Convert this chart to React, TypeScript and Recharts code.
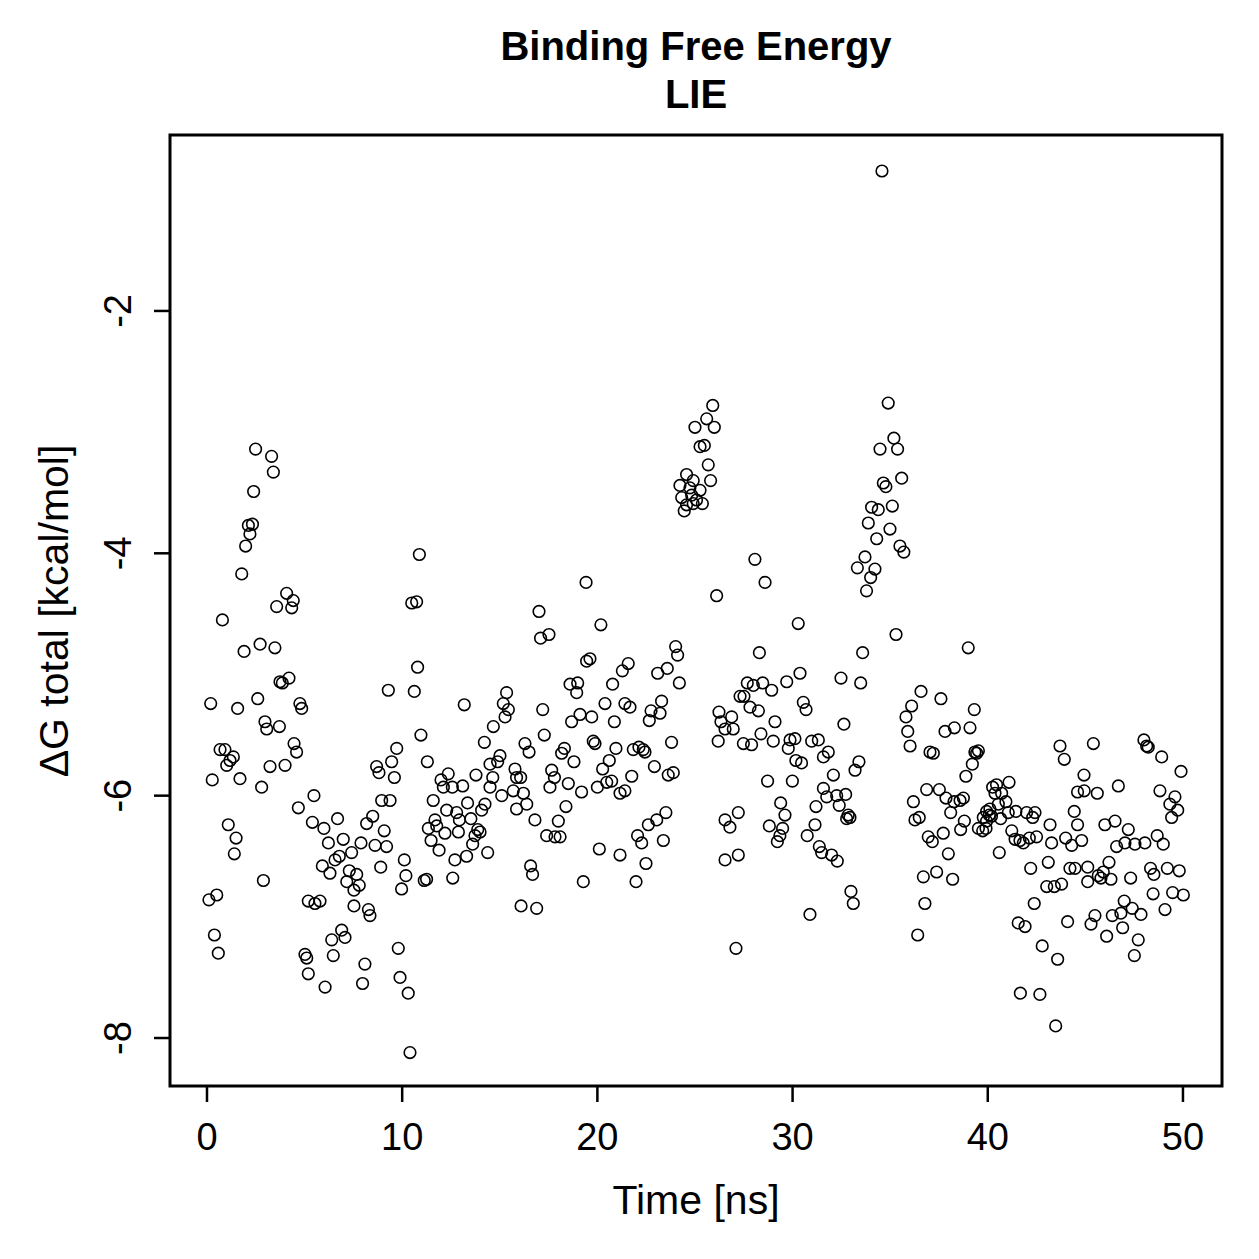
import React from 'react';
import { ScatterChart, Scatter, XAxis, YAxis, ReferenceArea, Label } from 'recharts';

// [time (ns), ΔG total (kcal/mol)], grouped by time window
const seg00to05: [number, number][] = [[2.49,-3.14],[3.31,-3.20],[3.40,-3.33],[2.39,-3.49],[2.12,-3.77],[2.33,-3.76],[2.20,-3.84],[1.98,-3.94],[1.78,-4.17],[4.08,-4.33],[4.42,-4.39],[4.34,-4.45],[3.57,-4.44],[0.79,-4.55],[1.90,-4.81],[2.72,-4.75],[3.48,-4.78],[4.20,-5.03],[3.86,-5.07],[3.74,-5.06],[0.19,-5.24],[1.57,-5.28],[2.60,-5.20],[4.76,-5.24],[4.85,-5.28],[2.97,-5.39],[3.06,-5.45],[3.71,-5.43],[0.67,-5.62],[0.92,-5.62],[1.35,-5.68],[1.18,-5.71],[1.01,-5.75],[4.46,-5.57],[4.59,-5.64],[0.27,-5.87],[1.69,-5.86],[2.80,-5.93],[3.23,-5.76],[4.00,-5.75],[4.68,-6.10],[1.09,-6.24],[1.49,-6.35],[1.40,-6.48],[2.89,-6.70],[0.10,-6.86],[0.50,-6.82],[0.38,-7.15],[0.58,-7.30]];
const seg05to10: [number, number][] = [[9.29,-5.13],[9.72,-5.61],[9.46,-5.72],[9.60,-5.85],[8.69,-5.76],[8.81,-5.81],[8.95,-6.04],[9.38,-6.04],[5.48,-6.00],[5.40,-6.22],[5.99,-6.27],[6.69,-6.19],[6.22,-6.39],[6.98,-6.36],[7.41,-6.47],[7.89,-6.39],[8.18,-6.23],[8.49,-6.17],[8.61,-6.41],[9.08,-6.29],[9.20,-6.42],[8.90,-6.59],[10.11,-6.53],[10.19,-6.66],[9.97,-6.77],[5.91,-6.58],[6.56,-6.53],[6.78,-6.50],[6.30,-6.64],[7.16,-6.71],[7.29,-6.62],[7.67,-6.65],[7.80,-6.74],[7.53,-6.78],[5.19,-6.87],[5.53,-6.89],[5.79,-6.87],[7.53,-6.91],[8.27,-6.94],[8.35,-6.99],[6.39,-7.19],[6.90,-7.11],[7.07,-7.17],[5.02,-7.31],[5.11,-7.34],[5.19,-7.47],[6.47,-7.32],[8.09,-7.39],[9.80,-7.26],[9.89,-7.50],[6.05,-7.58],[7.97,-7.55]];
const seg10to15: [number, number][] = [[10.88,-4.01],[10.49,-4.41],[10.74,-4.40],[10.79,-4.94],[10.62,-5.14],[13.18,-5.25],[10.96,-5.50],[11.29,-5.72],[15.35,-5.15],[15.18,-5.24],[15.44,-5.29],[15.27,-5.35],[14.67,-5.43],[14.21,-5.56],[15.01,-5.67],[14.89,-5.72],[14.50,-5.74],[14.64,-5.85],[14.50,-5.93],[15.10,-6.00],[13.78,-5.83],[11.99,-5.87],[12.11,-5.93],[12.36,-5.82],[12.57,-5.93],[13.10,-5.92],[11.59,-6.04],[13.35,-6.06],[12.28,-6.12],[12.79,-6.14],[12.93,-6.20],[14.24,-6.07],[14.07,-6.12],[13.52,-6.19],[11.68,-6.20],[11.77,-6.25],[11.34,-6.27],[12.19,-6.31],[12.88,-6.30],[13.87,-6.28],[13.99,-6.30],[13.73,-6.33],[11.48,-6.37],[13.61,-6.40],[11.89,-6.45],[14.38,-6.47],[13.30,-6.50],[12.70,-6.53],[11.13,-6.70],[11.25,-6.69],[12.59,-6.68],[10.31,-7.63],[10.40,-8.12]];
const seg15to21: [number, number][] = [[19.42,-4.24],[17.01,-4.48],[17.09,-4.70],[17.52,-4.67],[20.18,-4.59],[19.45,-4.89],[19.62,-4.87],[18.60,-5.08],[18.99,-5.07],[18.94,-5.15],[20.78,-5.08],[20.39,-5.24],[17.20,-5.29],[18.68,-5.39],[19.11,-5.33],[19.71,-5.35],[20.87,-5.39],[17.28,-5.50],[16.29,-5.57],[16.50,-5.64],[18.31,-5.61],[18.17,-5.65],[19.79,-5.55],[19.88,-5.57],[20.95,-5.61],[18.80,-5.72],[20.61,-5.71],[20.27,-5.78],[15.78,-5.78],[15.86,-5.85],[16.07,-5.85],[15.69,-5.96],[16.21,-5.98],[15.86,-6.11],[16.38,-6.07],[17.66,-5.79],[17.80,-5.85],[17.57,-5.93],[18.51,-5.90],[19.19,-5.97],[20.00,-5.93],[20.48,-5.89],[20.73,-5.88],[18.39,-6.09],[16.80,-6.20],[18.00,-6.21],[17.40,-6.33],[17.83,-6.34],[18.09,-6.34],[20.10,-6.44],[16.58,-6.58],[16.68,-6.65],[19.28,-6.71],[16.09,-6.91],[16.89,-6.93]];
const seg21to26: [number, number][] = [[25.91,-2.78],[25.00,-2.96],[25.60,-2.89],[25.99,-2.96],[25.26,-3.12],[25.48,-3.11],[25.68,-3.27],[25.80,-3.40],[24.57,-3.35],[24.91,-3.40],[24.23,-3.44],[24.74,-3.46],[25.26,-3.48],[24.83,-3.52],[24.32,-3.54],[24.57,-3.60],[25.08,-3.56],[25.38,-3.59],[24.45,-3.65],[24.91,-3.59],[26.11,-4.35],[24.01,-4.77],[24.11,-4.84],[23.58,-4.95],[23.09,-4.99],[24.20,-5.07],[21.58,-4.91],[21.28,-4.97],[21.41,-5.24],[21.67,-5.27],[23.29,-5.22],[23.21,-5.32],[22.75,-5.30],[22.66,-5.38],[23.80,-5.56],[26.23,-5.31],[26.33,-5.39],[26.19,-5.55],[21.84,-5.62],[22.13,-5.60],[22.35,-5.62],[22.44,-5.64],[22.92,-5.76],[23.63,-5.83],[23.89,-5.81],[21.76,-5.84],[21.16,-5.98],[21.41,-5.96],[23.51,-6.14],[23.04,-6.20],[22.61,-6.24],[22.06,-6.33],[22.27,-6.39],[23.38,-6.37],[21.16,-6.49],[22.49,-6.56],[21.98,-6.71]];
const seg26to32: [number, number][] = [[28.07,-4.05],[28.59,-4.24],[30.29,-4.58],[28.30,-4.82],[30.38,-4.99],[29.70,-5.06],[27.68,-5.07],[27.99,-5.09],[28.47,-5.07],[28.93,-5.13],[27.31,-5.18],[27.51,-5.18],[27.82,-5.27],[28.25,-5.30],[30.55,-5.23],[30.69,-5.29],[26.88,-5.35],[26.54,-5.45],[26.96,-5.45],[29.10,-5.39],[28.38,-5.49],[29.01,-5.55],[27.48,-5.57],[27.90,-5.58],[29.87,-5.54],[30.12,-5.53],[29.78,-5.61],[30.17,-5.71],[30.46,-5.73],[30.98,-5.55],[31.32,-5.54],[31.83,-5.64],[31.58,-5.68],[28.72,-5.88],[29.99,-5.88],[31.58,-5.94],[31.75,-6.01],[29.39,-6.06],[29.61,-6.16],[31.20,-6.09],[31.15,-6.24],[27.22,-6.14],[26.54,-6.20],[26.79,-6.26],[28.81,-6.25],[29.49,-6.27],[29.35,-6.33],[29.22,-6.38],[30.75,-6.33],[31.37,-6.42],[31.49,-6.47],[27.22,-6.49],[26.54,-6.53],[30.89,-6.98],[27.10,-7.26]];
const seg32to37: [number, number][] = [[34.58,-0.845],[34.90,-2.76],[35.19,-3.05],[34.48,-3.14],[35.38,-3.14],[35.59,-3.38],[34.65,-3.42],[34.78,-3.45],[34.05,-3.62],[34.39,-3.64],[35.11,-3.61],[33.88,-3.75],[34.99,-3.80],[34.31,-3.88],[35.50,-3.94],[35.70,-3.99],[33.71,-4.03],[33.32,-4.12],[34.22,-4.13],[34.00,-4.20],[33.79,-4.31],[35.30,-4.67],[33.59,-4.82],[32.48,-5.03],[33.49,-5.07],[36.58,-5.14],[36.10,-5.26],[35.81,-5.35],[32.63,-5.41],[35.90,-5.47],[36.02,-5.59],[33.40,-5.72],[33.20,-5.79],[32.09,-5.83],[37.04,-5.64],[37.21,-5.65],[32.26,-6.00],[32.72,-5.99],[32.39,-6.08],[32.85,-6.16],[32.94,-6.18],[32.77,-6.19],[36.87,-5.95],[36.19,-6.05],[36.27,-6.20],[36.49,-6.18],[36.95,-6.34],[37.16,-6.38],[32.00,-6.49],[32.29,-6.54],[36.70,-6.67],[32.99,-6.79],[33.11,-6.89],[36.78,-6.89],[36.41,-7.15]];
const seg37to43: [number, number][] = [[39.00,-4.78],[37.60,-5.20],[39.31,-5.29],[37.81,-5.47],[38.29,-5.44],[39.09,-5.44],[39.34,-5.64],[39.52,-5.63],[39.43,-5.65],[39.21,-5.74],[38.88,-5.84],[37.52,-5.95],[37.86,-6.02],[38.27,-6.05],[38.58,-6.04],[38.75,-6.02],[38.10,-6.14],[38.80,-6.21],[38.61,-6.28],[37.72,-6.31],[37.98,-6.48],[37.38,-6.63],[38.20,-6.69],[40.25,-5.93],[40.45,-5.91],[41.09,-5.89],[40.37,-5.98],[40.71,-5.98],[40.54,-6.07],[40.93,-6.05],[39.94,-6.13],[40.08,-6.16],[40.11,-6.11],[39.77,-6.18],[39.94,-6.21],[39.52,-6.27],[39.74,-6.29],[39.91,-6.27],[40.66,-6.19],[41.05,-6.14],[40.19,-6.17],[41.44,-6.13],[41.99,-6.14],[42.30,-6.18],[42.42,-6.14],[41.23,-6.29],[41.40,-6.36],[41.65,-6.37],[41.82,-6.39],[42.13,-6.35],[42.50,-6.34],[40.59,-6.47],[42.20,-6.60],[42.38,-6.89],[41.56,-7.05],[41.91,-7.08],[41.67,-7.63]];
const seg43to48: [number, number][] = [[43.70,-5.59],[43.92,-5.70],[45.41,-5.57],[44.93,-5.83],[46.69,-5.92],[44.60,-5.97],[44.94,-5.96],[45.61,-5.98],[44.43,-6.13],[44.60,-6.24],[43.19,-6.24],[46.00,-6.24],[46.52,-6.21],[47.20,-6.28],[43.27,-6.39],[43.99,-6.35],[44.30,-6.41],[44.81,-6.37],[46.60,-6.42],[47.03,-6.39],[47.54,-6.40],[43.10,-6.55],[44.21,-6.60],[44.47,-6.60],[45.12,-6.59],[46.21,-6.55],[45.92,-6.63],[46.31,-6.69],[45.12,-6.71],[45.66,-6.66],[45.80,-6.68],[47.32,-6.68],[43.78,-6.73],[43.02,-6.75],[43.41,-6.75],[46.99,-6.87],[47.40,-6.93],[46.82,-6.97],[46.38,-6.99],[47.85,-6.98],[45.49,-6.99],[45.29,-7.06],[44.09,-7.04],[46.91,-7.09],[46.09,-7.16],[47.71,-7.19],[47.51,-7.32],[42.79,-7.24],[43.58,-7.35],[42.67,-7.64],[43.48,-7.90]];
const seg48to50: [number, number][] = [[48.00,-5.54],[48.22,-5.60],[48.14,-5.59],[48.91,-5.68],[49.90,-5.80],[48.82,-5.96],[49.59,-6.01],[49.33,-6.07],[49.73,-6.12],[49.42,-6.18],[48.05,-6.39],[48.68,-6.33],[48.99,-6.40],[48.34,-6.60],[48.51,-6.65],[49.20,-6.60],[49.81,-6.62],[48.47,-6.81],[49.47,-6.80],[50.02,-6.82],[49.08,-6.94]];

const xTicks = [0, 10, 20, 30, 40, 50];
const yTicks = [-8, -6, -4, -2];
const xDomain: [number, number] = [-1.895, 52.0];
const yDomain: [number, number] = [-8.396, -0.548];

const titleLines = ['Binding Free Energy', 'LIE'];
const xLabel = 'Time [ns]';
const yLabel = 'ΔG total [kcal/mol]';

const FONT = '"Liberation Sans", Arial, Helvetica, sans-serif';

const points = [
  ...seg00to05, ...seg05to10, ...seg10to15, ...seg15to21, ...seg21to26,
  ...seg26to32, ...seg32to37, ...seg37to43, ...seg43to48, ...seg48to50,
].map(([t, v]) => ({ t, v }));

const OpenCircle = (props: any) => {
  const { cx, cy } = props;
  if (cx == null || cy == null) return null;
  return <circle cx={cx} cy={cy} r={5.8} fill="none" stroke="#000" strokeWidth={1.6} />;
};

const XTick = (props: any) => {
  const { x, payload } = props;
  return (
    <text x={x} y={1150} textAnchor="middle" fontSize={38} fontFamily={FONT} fill="#000">
      {payload.value}
    </text>
  );
};

const YTick = (props: any) => {
  const { y, payload } = props;
  return (
    <text transform={`translate(131, ${y}) rotate(-90)`} textAnchor="middle" fontSize={38} fontFamily={FONT} fill="#000">
      {payload.value}
    </text>
  );
};

export default function App() {
  return (
    <div style={{ position: 'absolute', left: 0, top: 0, width: 1259, height: 1259, background: '#fff' }}>
      <ScatterChart width={1259} height={1259} margin={{ top: 135, right: 37, bottom: 0, left: 0 }}>
        <XAxis
          type="number"
          dataKey="t"
          domain={xDomain}
          allowDataOverflow
          ticks={xTicks}
          tick={<XTick />}
          tickSize={16}
          tickLine={{ stroke: '#000', strokeWidth: 2.5 }}
          axisLine={false}
          height={173}
          interval={0}
        >
          <Label
            content={() => (
              <text x={696} y={1214} textAnchor="middle" fontSize={41} fontFamily={FONT} fill="#000">
                {xLabel}
              </text>
            )}
          />
        </XAxis>
        <YAxis
          type="number"
          dataKey="v"
          domain={yDomain}
          allowDataOverflow
          ticks={yTicks}
          tick={<YTick />}
          tickSize={16}
          tickLine={{ stroke: '#000', strokeWidth: 2.5 }}
          axisLine={false}
          width={170}
          interval={0}
        >
          <Label
            content={() => (
              <text transform="translate(68, 611) rotate(-90)" textAnchor="middle" fontSize={41} fontFamily={FONT} fill="#000">
                {yLabel}
              </text>
            )}
          />
        </YAxis>
        <ReferenceArea
          x1={xDomain[0]}
          x2={xDomain[1]}
          y1={yDomain[0]}
          y2={yDomain[1]}
          fill="none"
          fillOpacity={0}
          stroke="#000"
          strokeWidth={3}
          ifOverflow="visible"
        />
        <Scatter data={points} shape={<OpenCircle />} isAnimationActive={false} />
      </ScatterChart>
      <svg width={1259} height={140} style={{ position: 'absolute', left: 0, top: 0, pointerEvents: 'none' }}>
        <text x={696} y={60} textAnchor="middle" fontSize={40} fontWeight="bold" fontFamily={FONT} fill="#000">
          {titleLines[0]}
        </text>
        <text x={696} y={108} textAnchor="middle" fontSize={40} fontWeight="bold" fontFamily={FONT} fill="#000">
          {titleLines[1]}
        </text>
      </svg>
    </div>
  );
}
